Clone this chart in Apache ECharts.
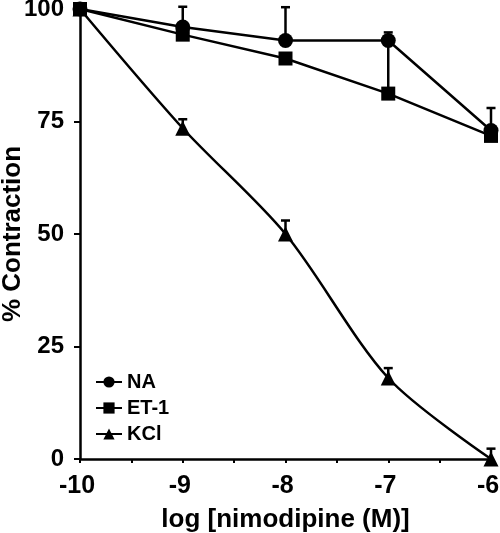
<!DOCTYPE html>
<html>
<head>
<meta charset="utf-8">
<script src="https://cdn.jsdelivr.net/npm/echarts@6/dist/echarts.min.js"></script>
<style>html,body{margin:0;padding:0;background:#fff;}#c{width:500px;height:533px;}</style>
</head>
<body>
<div id="c"></div>
<script>
const xVals = [-10, -9, -8, -7, -6];
const naVals = [100, 96, 93, 93, 73];
const naErr = [null, 100.5, 100.4, 94.8, 78];
const et1Vals = [100, 94.3, 89, 81.2, 71.8];
const et1Err = [null, null, null, 93, null];
const kclVals = [100, 73.5, 50, 18, 0];
const kclErr = [null, 75.5, 53, 20.2, 2.3];
const yTicks = [0, 25, 50, 75, 100];

const FONT = '"Liberation Sans", Arial, Helvetica, sans-serif';

function pairs(vals) { return xVals.map((x, i) => [x, vals[i]]); }
function errData(vals, errs) {
  const out = [];
  xVals.forEach((x, i) => { if (errs[i] != null) out.push([x, vals[i], errs[i]]); });
  return out;
}
function errSeries(vals, errs) {
  return {
    type: 'custom', silent: true, z: 1,
    data: errData(vals, errs),
    renderItem: function (params, api) {
      const p0 = api.coord([api.value(0), api.value(1)]);
      const p1 = api.coord([api.value(0), api.value(2)]);
      const style = { stroke: '#000', lineWidth: 2.5 };
      return {
        type: 'group',
        children: [
          { type: 'line', shape: { x1: p0[0], y1: p0[1], x2: p1[0], y2: p1[1] }, style: style },
          { type: 'line', shape: { x1: p1[0] - 4.5, y1: p1[1], x2: p1[0] + 4.5, y2: p1[1] }, style: style }
        ]
      };
    }
  };
}

const chart = echarts.init(document.getElementById('c'), null, { renderer: 'canvas' });
chart.setOption({
  animation: false,
  backgroundColor: '#fff',
  grid: { left: 80, right: 9, top: 9, bottom: 74, containLabel: false, outerBoundsMode: 'none' },
  legend: {
    orient: 'vertical', left: 90, top: 367, itemGap: 6,
    itemWidth: 26, itemHeight: 14,
    textStyle: { fontFamily: FONT, fontWeight: 'bold', fontSize: 20, color: '#000' },
    data: ['NA', 'ET-1', 'KCl']
  },
  xAxis: {
    type: 'value', min: -10, max: -6, interval: 1,
    name: 'log [nimodipine (M)]', nameLocation: 'middle', nameGap: 48, nameMoveOverlap: false,
    nameTextStyle: { fontFamily: FONT, fontWeight: 'bold', fontSize: 26, color: '#000' },
    axisLine: { show: true, onZero: false, lineStyle: { color: '#000', width: 2.5 } },
    axisTick: { show: true, length: 4, lineStyle: { color: '#000', width: 2 } },
    minorTick: { show: true, splitNumber: 2, length: 4, lineStyle: { color: '#000', width: 2 } },
    axisLabel: { fontFamily: FONT, fontWeight: 'bold', fontSize: 25, color: '#000', margin: 15, padding: [0, 6, 0, 0] },
    splitLine: { show: false }
  },
  yAxis: {
    type: 'value', min: 0, max: 100, interval: 25,
    name: '% Contraction', nameLocation: 'middle', nameGap: 54, nameRotate: 90, nameMoveOverlap: false,
    nameTextStyle: { fontFamily: FONT, fontWeight: 'bold', fontSize: 26, color: '#000' },
    axisLine: { show: true, onZero: false, lineStyle: { color: '#000', width: 2.5 } },
    axisTick: { show: true, length: 6, lineStyle: { color: '#000', width: 2 } },
    axisLabel: {
      fontFamily: FONT, fontWeight: 'bold', fontSize: 24, color: '#000', margin: 16,
      formatter: v => yTicks.includes(v) ? String(v) : ''
    },
    splitLine: { show: false }
  },
  series: [
    errSeries(naVals, naErr),
    errSeries(et1Vals, et1Err),
    errSeries(kclVals, kclErr),
    {
      name: 'NA', type: 'line', data: pairs(naVals), z: 3,
      symbol: 'circle', symbolSize: 15,
      lineStyle: { color: '#000', width: 2.5 }, itemStyle: { color: '#000' }
    },
    {
      name: 'ET-1', type: 'line', data: pairs(et1Vals), z: 4,
      symbol: 'rect', symbolSize: 14,
      lineStyle: { color: '#000', width: 2.5 }, itemStyle: { color: '#000' }
    },
    {
      name: 'KCl', type: 'line', data: pairs(kclVals), z: 3, smooth: 0.3,
      symbol: 'triangle', symbolSize: 15,
      lineStyle: { color: '#000', width: 2.5 }, itemStyle: { color: '#000' }
    }
  ]
});
</script>
</body>
</html>
